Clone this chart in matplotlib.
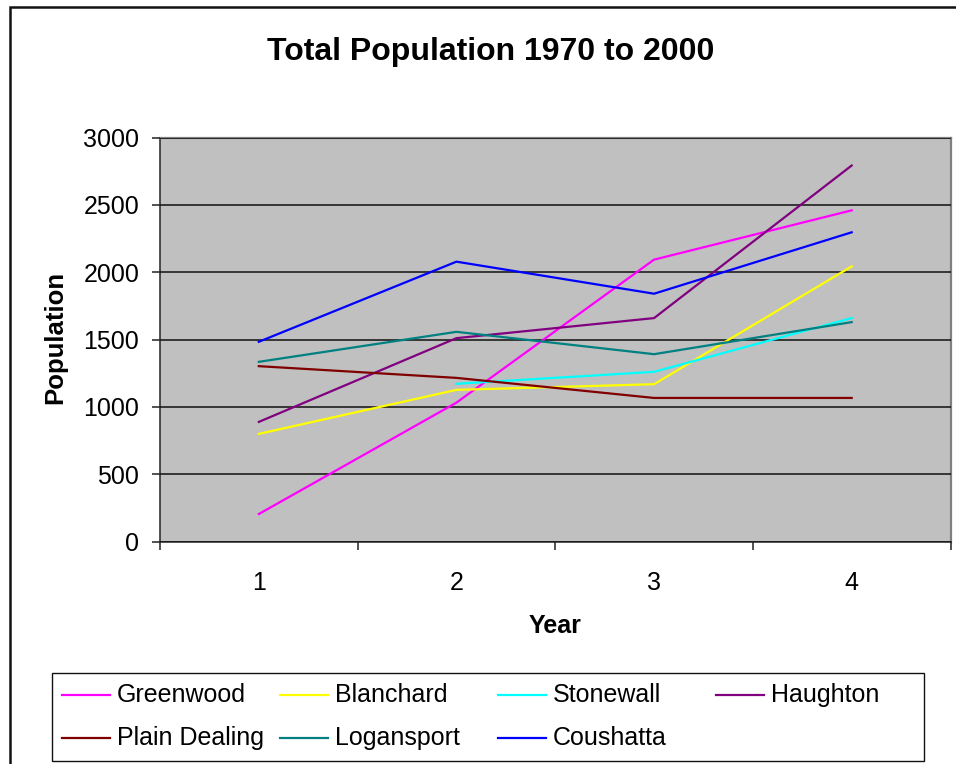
import numpy as np
import matplotlib
matplotlib.use("Agg")
import matplotlib.pyplot as plt
from matplotlib.lines import Line2D
from matplotlib.patches import Rectangle

plt.rcParams['font.family'] = ['Liberation Sans', 'DejaVu Sans']

# Census points (1 = 1970 ... 4 = 2000)
periods = [1, 2, 3, 4]
period_labels = ['1', '2', '3', '4']

greenwood = [204, 1031, 2093, 2459]
blanchard = [799, 1126, 1168, 2043]
stonewall = [np.nan, 1171, 1260, 1659]
haughton = [888, 1510, 1659, 2792]
plain_dealing = [1302, 1215, 1066, 1066]
logansport = [1334, 1557, 1391, 1629]
coushatta = [1483, 2078, 1840, 2296]

series_names = ['Greenwood', 'Blanchard', 'Stonewall', 'Haughton',
                'Plain Dealing', 'Logansport', 'Coushatta']
series_values = [greenwood, blanchard, stonewall, haughton,
                 plain_dealing, logansport, coushatta]
series_colors = ['#FF00FF', '#FFFF00', '#00FFFF', '#800080',
                 '#800000', '#008080', '#0000FF']

W, H = 956, 764
fig = plt.figure(figsize=(W / 100, H / 100), dpi=100)


def fx(px):
    return px / W


def fy(py):
    return 1 - py / H


# Outer chart frame (runs off the right and bottom edges)
fig.add_artist(Rectangle((fx(10), fy(800)), fx(1000), fy(7) - fy(800),
                         transform=fig.transFigure, fill=False,
                         edgecolor='#111111', linewidth=1.8))

ax = fig.add_axes([fx(160), fy(541.5), fx(950.5) - fx(160), fy(137.5) - fy(541.5)])
ax.set_facecolor('#C0C0C0')

for name, vals, col in zip(series_names, series_values, series_colors):
    ax.plot(periods, vals, color=col, linewidth=1.6, label=name,
            solid_joinstyle='miter', zorder=3)

ax.set_xlim(0.5, 4.5)
ax.set_ylim(0, 3000)
ax.set_yticks(np.arange(0, 3001, 500))
ax.yaxis.grid(True, color='#111111', linewidth=1.1)
ax.set_axisbelow(False)

# Category axis: boundary ticks, labels in the middle of each category
ax.set_xticks([0.5, 1.5, 2.5, 3.5, 4.5])
ax.set_xticklabels([])
ax.set_xticks(periods, minor=True)
ax.set_xticklabels(period_labels, minor=True)
ax.tick_params(axis='x', which='major', length=6, width=1.1, color='#222222', direction='out')
ax.tick_params(axis='x', which='minor', length=0, pad=21, labelsize=18)
ax.tick_params(axis='y', length=6, width=1.1, color='#222222', direction='out',
               pad=9, labelsize=18)

for side in ('top', 'right'):
    ax.spines[side].set_color('#808080')
    ax.spines[side].set_linewidth(1.6)
for side in ('left', 'bottom'):
    ax.spines[side].set_color('#333333')
    ax.spines[side].set_linewidth(1.2)

ax.set_xlabel('Year', fontsize=18, fontweight='bold')
ax.xaxis.set_label_coords(0.5, (541.5 - 626) / 404)
ax.xaxis.label.set_va('center')
ax.set_ylabel('Population', fontsize=18.5, fontweight='bold')
ax.yaxis.set_label_coords((55 - 160) / 790.5, (541.5 - 337) / 404)
ax.yaxis.label.set_va('center')

fig.text(fx(491), fy(52), 'Total Population 1970 to 2000', ha='center', va='center',
         fontsize=23, fontweight='bold')

# Legend box with equal-width columns
fig.add_artist(Rectangle((fx(52), fy(761)), fx(924) - fx(52), fy(673) - fy(761),
                         transform=fig.transFigure, fill=True, facecolor='white',
                         edgecolor='#111111', linewidth=1.0))
handles, labels = ax.get_legend_handles_labels()
for i, (h, lab) in enumerate(zip(handles, labels)):
    col, row = i % 4, i // 4
    x0 = 62 + 218 * col
    y0 = 695 + 43 * row
    fig.add_artist(Line2D([fx(x0), fx(x0 + 48)], [fy(y0), fy(y0)],
                          transform=fig.transFigure, color=h.get_color(), linewidth=1.6))
    fig.text(fx(x0 + 55), fy(y0), lab, ha='left', va='center', fontsize=18)

fig.savefig('out.png', dpi=100)
